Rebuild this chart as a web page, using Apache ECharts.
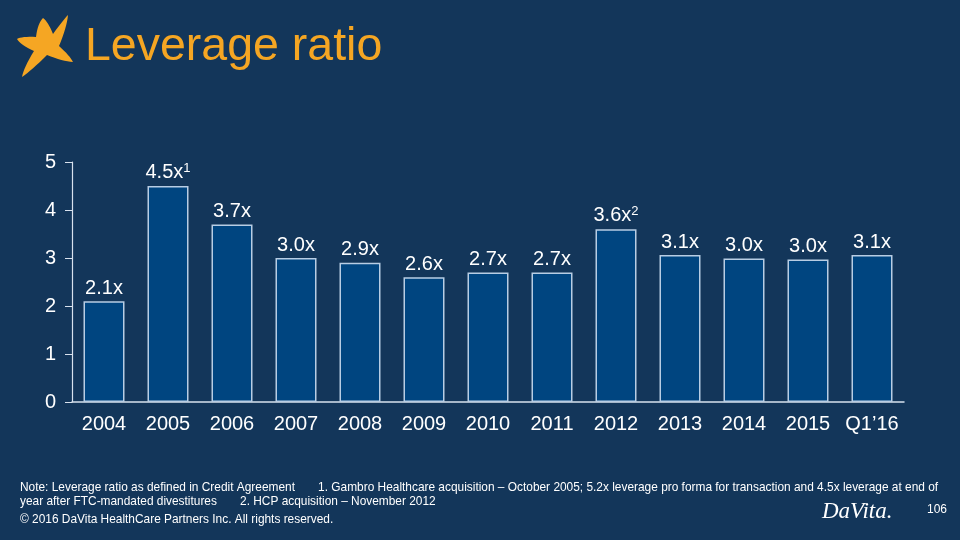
<!DOCTYPE html>
<html><head><meta charset="utf-8">
<script src="https://cdn.jsdelivr.net/npm/echarts@6/dist/echarts.min.js"></script>
<style>html,body{margin:0;padding:0;background:#13365a}#c{width:960px;height:540px}</style>
</head><body><div id="c"></div>
<script>
const categories = ['2004','2005','2006','2007','2008','2009','2010','2011','2012','2013','2014','2015','Q1\u201916'];
const values = [2.1, 4.5, 3.7, 3.0, 2.9, 2.6, 2.7, 2.7, 3.6, 3.06, 2.99, 2.97, 3.06];
const labels = ['2.1x','4.5x','3.7x','3.0x','2.9x','2.6x','2.7x','2.7x','3.6x','3.1x','3.0x','3.0x','3.1x'];
const footnoteMarks = ['', '1', '', '', '', '', '', '', '2', '', '', '', ''];
const yTicks = [0, 1, 2, 3, 4, 5];

// star logo outline: tip -> inner point -> next tip, edges bowed outward
const starTips = [[43,18],[68,15],[73,62],[22,77],[17,39]];
const starInner = [[53,34],[59,46],[47,55],[34,51],[36,37]];
const starPts = [];
for (let k = 0; k < 5; k++) {
  const a = starTips[k], m = starInner[k], b = starTips[(k+1)%5];
  [[a,m],[m,b]].forEach(([p,q]) => {
    const mx = (p[0]+q[0])/2, my = (p[1]+q[1])/2;
    const cx = mx - (48 - mx) * 0.22, cy = my - (46 - my) * 0.22;
    for (let i = 0; i < 8; i++) {
      const t = i / 8, u = 1 - t;
      starPts.push([u*u*p[0] + 2*u*t*cx + t*t*q[0], u*u*p[1] + 2*u*t*cy + t*t*q[1]]);
    }
  });
}

const chart = echarts.init(document.getElementById('c'));
const white = '#ffffff';
const noteFont = '11.9px "Liberation Sans", Arial';
chart.setOption({
  backgroundColor: '#13365a',
  animation: false,
  grid: {left: 72, right: 56, top: 162, bottom: 138},
  xAxis: {
    type: 'category', data: categories,
    axisLine: {lineStyle: {color: '#d8e2ee', width: 1.5}},
    axisTick: {show: false},
    axisLabel: {interval: 0, color: white, fontSize: 20, fontFamily: 'Liberation Sans, Arial', margin: 12}
  },
  yAxis: {
    type: 'value', min: yTicks[0], max: yTicks[yTicks.length-1], interval: 1,
    splitLine: {show: false},
    axisLine: {show: true, lineStyle: {color: '#d8e2ee', width: 1.2}},
    axisTick: {show: true, length: 7, lineStyle: {color: '#d8e2ee'}},
    axisLabel: {color: white, fontSize: 20, fontFamily: 'Liberation Sans, Arial', margin: 16}
  },
  series: [{
    type: 'bar', data: values, barWidth: 41,
    itemStyle: {color: '#004580', borderColor: '#b8cde4', borderWidth: 1.5},
    label: {
      show: true, position: 'top', distance: 3,
      formatter: p => footnoteMarks[p.dataIndex] ? labels[p.dataIndex] + '{sup|' + footnoteMarks[p.dataIndex] + '}' : labels[p.dataIndex],
      color: white, fontSize: 20, fontFamily: 'Liberation Sans, Arial',
      rich: {sup: {fontSize: 13, color: white, verticalAlign: 'top', padding: [0,0,8,0], fontFamily: 'Liberation Sans, Arial'}}
    }
  }],
  graphic: [
    {type: 'polygon', shape: {points: starPts}, style: {fill: '#f5a623'}},
    {type: 'text', left: 85, top: 24, style: {text: 'Leverage ratio', fill: '#f5a623', font: '46.5px "Liberation Sans", Arial'}},
    {type: 'text', left: 20, top: 482, style: {text: 'Note: Leverage ratio as defined in Credit Agreement       1. Gambro Healthcare acquisition \u2013 October 2005; 5.2x leverage pro forma for transaction and 4.5x leverage at end of', fill: white, font: noteFont}},
    {type: 'text', left: 20, top: 496, style: {text: 'year after FTC-mandated divestitures       2. HCP acquisition \u2013 November 2012', fill: white, font: noteFont}},
    {type: 'text', left: 20, top: 514, style: {text: '\u00a9 2016 DaVita HealthCare Partners Inc. All rights reserved.', fill: white, font: noteFont}},
    {type: 'text', left: 822, top: 500, style: {text: 'DaVita.', fill: white, font: 'italic 23px "Liberation Serif", "DejaVu Serif", serif'}},
    {type: 'text', left: 927, top: 504, style: {text: '106', fill: white, font: '12px "Liberation Sans", Arial'}}
  ]
});
</script></body></html>
